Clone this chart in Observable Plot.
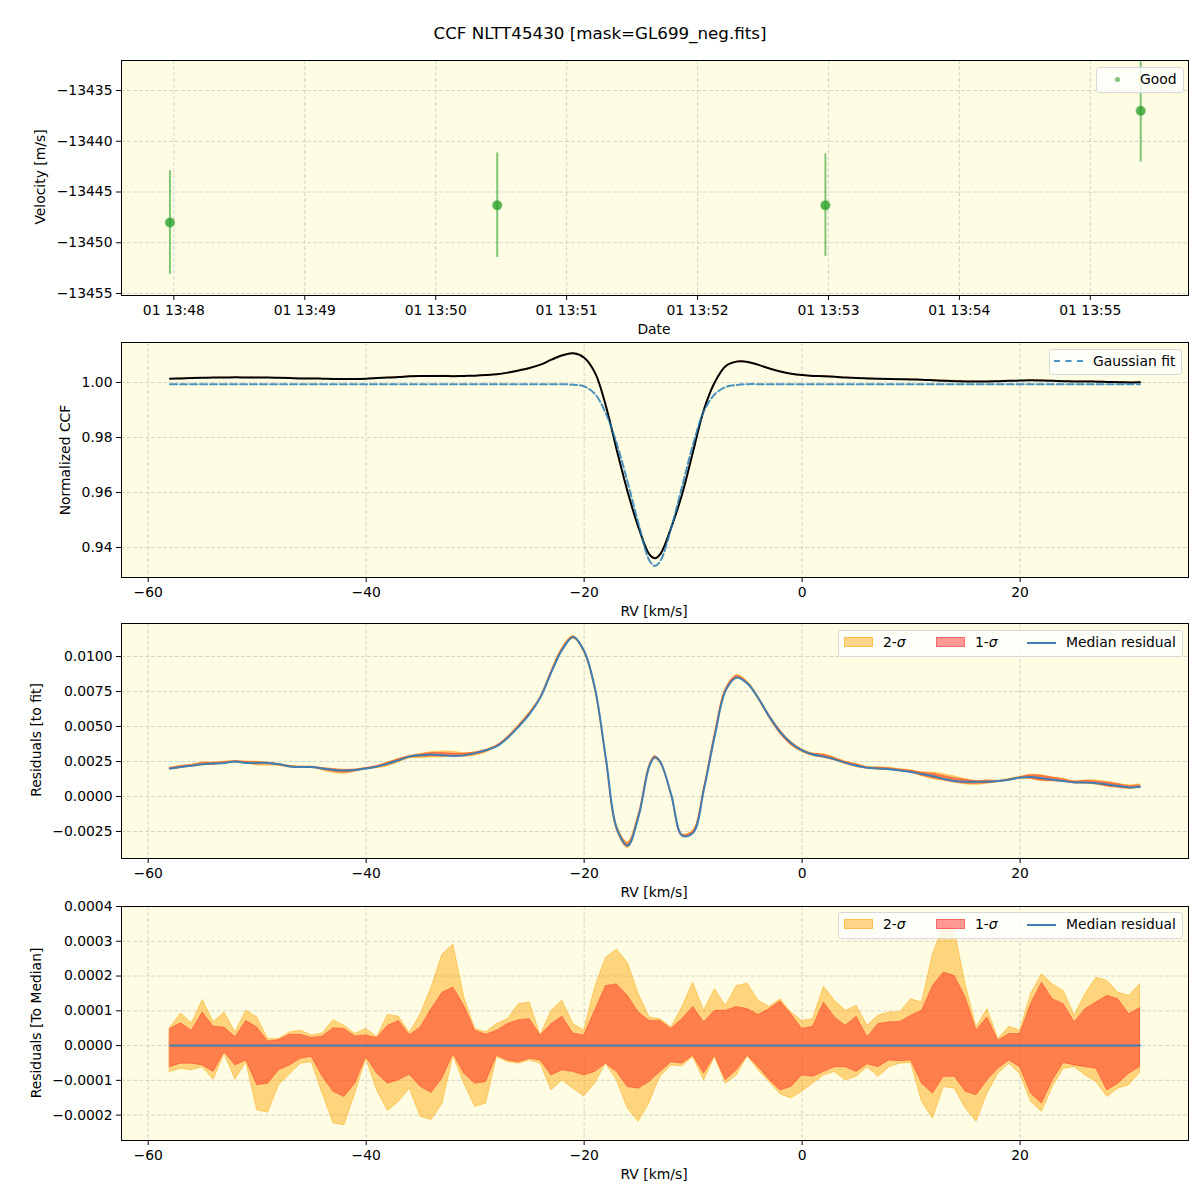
<!DOCTYPE html>
<html><head><meta charset="utf-8">
<script src="https://cdn.jsdelivr.net/npm/d3@7"></script>
<script src="https://cdn.jsdelivr.net/npm/@observablehq/plot@0.6"></script>
<style>
body{margin:0;background:#fff;font-family:"DejaVu Sans",sans-serif;}
#root{position:relative;width:1200px;height:1200px;overflow:hidden;}
.abs{position:absolute;white-space:nowrap;color:#000;line-height:1;}
.c{transform:translate(-50%,-50%);}
.rot{transform:translate(-50%,-50%) rotate(-90deg);}
.svgwrap{position:absolute;left:0;}
</style></head><body><div id="root"></div><script>
// ---------------- data ----------------
const obsTimes = ["2023-06-01T13:47:58.2Z","2023-06-01T13:50:28.2Z","2023-06-01T13:52:58.6Z","2023-06-01T13:55:23.1Z"];
const obsVelocity = [-13448.0, -13446.3, -13446.3, -13437.0];
const obsError = [5.1, 5.15, 5.05, 5.05];

const rv = [-58,-57,-56,-55,-54,-53,-52,-51,-50,-49,-48,-47,-46,-45,-44,-43,-42,-41,-40,-39,-38,-37,-36,-35,-34,-33,-32,-31,-30,-29,-28,-27,-26,-25,-24,-23,-22,
 -21,-20,-19,-18,-17,-16,-15,-14,-13.5,-13,-12,-11,-10,-9,-8,-7,-6,
 -5,-4,-3,-2,-1,0,1,2,3,4,5,6,7,8,9,10,11,12,13,14,15,16,17,18,19,20,21,22,23,24,25,26,27,28,29,30,31];

const ccf = [1.0014,1.0015,1.0016,1.0017,1.0018,1.0018,1.0019,1.0018,1.0018,1.0018,1.0017,1.0016,1.0015,1.0015,1.0014,1.0013,1.0013,1.0013,1.0014,1.0016,1.0018,1.0020,1.0023,1.0024,1.0024,1.0024,1.0023,1.0024,1.0025,1.0027,1.0030,1.0036,1.0044,1.0053,1.0065,1.0083,1.0099,
 1.0106,1.0090,1.0035,0.9914,0.9753,0.9601,0.9471,0.9374,0.9361,0.9377,0.9474,0.9596,0.9750,0.9903,1.0002,1.0060,1.0076,
 1.0075,1.0064,1.0051,1.0040,1.0032,1.0027,1.0024,1.0023,1.0021,1.0018,1.0016,1.0015,1.0014,1.0013,1.0012,1.0011,1.0010,1.0008,1.0006,1.0005,1.0004,1.0004,1.0004,1.0005,1.0006,1.0007,1.0008,1.0007,1.0006,1.0005,1.0004,1.0004,1.0003,1.0002,1.0001,1.0000,1.0001];

const gaussFit = [0.9994,0.9994,0.9994,0.9994,0.9994,0.9994,0.9994,0.9994,0.9994,0.9994,0.9994,0.9994,0.9994,0.9994,0.9994,0.9994,0.9994,0.9994,0.9994,0.9994,0.9994,0.9994,0.9994,0.9994,0.9994,0.9994,0.9994,0.9994,0.9994,0.9994,0.9994,0.9994,0.9994,0.9994,0.9994,0.9994,0.9994,
 0.9992,0.9986,0.9958,0.9887,0.9776,0.9636,0.9485,0.9352,0.9333,0.9352,0.9473,0.9624,0.9776,0.9897,0.9958,0.9984,0.9991,
 0.9994,0.9994,0.9994,0.9994,0.9994,0.9994,0.9994,0.9994,0.9994,0.9994,0.9994,0.9994,0.9994,0.9994,0.9994,0.9994,0.9994,0.9994,0.9994,0.9994,0.9994,0.9994,0.9994,0.9994,0.9994,0.9994,0.9994,0.9994,0.9994,0.9994,0.9994,0.9994,0.9994,0.9994,0.9994,0.9994,0.9994];

// median residual to fit, in units of 1e-3
const medianResidualE3 = [2.0,2.1,2.2,2.3,2.35,2.4,2.5,2.4,2.4,2.4,2.3,2.15,2.1,2.1,2.0,1.9,1.85,1.9,2.0,2.15,2.35,2.6,2.85,2.95,3.0,2.95,2.9,2.95,3.1,3.3,3.6,4.2,5.0,5.9,7.1,8.9,10.5,
 11.4,10.4,7.7,2.7,-2.3,-3.5,-1.4,2.2,2.8,2.45,0.1,-2.8,-2.6,0.55,4.4,7.6,8.5,
 8.05,7.0,5.7,4.6,3.8,3.3,3.0,2.85,2.65,2.4,2.2,2.05,2.0,1.95,1.85,1.75,1.6,1.45,1.25,1.1,1.05,1.05,1.05,1.1,1.2,1.35,1.4,1.3,1.2,1.1,1.0,1.0,0.95,0.85,0.75,0.65,0.7];

// residual band limits relative to the median, in units of 1e-4
const sigma2UpperE4 = [0.50,0.92,0.64,1.31,0.67,0.95,0.38,1.00,0.81,0.19,0.19,0.38,0.43,0.29,0.35,0.73,0.57,0.33,0.48,0.24,0.88,0.83,0.36,0.90,1.67,2.62,2.90,1.38,0.48,0.38,0.62,0.76,1.19,1.24,0.29,1.00,1.29,
 0.62,0.43,1.67,2.52,2.76,2.38,1.48,0.81,0.78,0.76,0.52,1.10,1.81,1.00,1.62,1.14,1.71,
 1.78,1.29,1.11,1.33,0.95,0.71,0.76,1.69,1.29,1.00,1.14,0.57,0.86,0.95,0.96,1.33,1.24,2.62,3.45,3.30,1.76,0.52,1.05,0.19,0.54,0.43,1.48,2.05,1.76,1.57,0.86,1.48,1.95,1.86,1.52,1.43,1.76];
const sigma1UpperE4 = [0.48,0.64,0.43,0.95,0.54,0.52,0.24,0.71,0.52,0.12,0.16,0.31,0.31,0.22,0.26,0.50,0.48,0.26,0.29,0.22,0.57,0.71,0.30,0.52,1.05,1.52,1.67,1.14,0.43,0.31,0.43,0.62,0.73,0.76,0.29,0.62,0.83,
 0.35,0.29,1.00,1.71,1.76,1.43,0.95,0.71,0.71,0.71,0.48,0.76,1.11,0.67,1.00,1.00,1.11,
 1.05,0.88,1.05,1.27,0.90,0.48,0.54,1.24,0.81,0.57,0.83,0.24,0.62,0.67,0.68,0.86,1.00,1.71,2.10,2.00,1.38,0.43,0.81,0.14,0.33,0.33,1.19,1.81,1.33,1.19,0.67,1.05,1.24,1.43,1.33,0.90,1.08];
const sigma1LowerE4 = [-0.62,-0.52,-0.52,-0.57,-0.76,-0.19,-0.57,-0.43,-1.14,-1.10,-0.71,-0.57,-0.38,-0.33,-0.90,-1.33,-1.48,-1.10,-0.33,-0.81,-1.10,-1.00,-0.84,-1.19,-1.36,-0.95,-0.24,-0.81,-1.10,-1.05,-0.29,-0.43,-0.48,-0.38,-0.43,-0.86,-0.71,
 -0.76,-0.86,-0.76,-0.52,-0.76,-1.19,-1.24,-1.05,-0.90,-0.76,-0.48,-0.52,-0.29,-0.81,-0.29,-1.00,-0.71,
 -0.29,-0.62,-0.98,-1.29,-1.19,-0.86,-0.90,-0.76,-0.62,-0.62,-0.76,-0.54,-0.62,-0.43,-0.45,-0.43,-1.10,-1.38,-0.90,-0.90,-1.33,-1.43,-1.00,-0.67,-0.43,-0.62,-1.38,-1.67,-1.00,-0.50,-0.57,-0.62,-0.67,-1.29,-1.10,-0.81,-0.62];
const sigma2LowerE4 = [-0.76,-0.67,-0.71,-0.62,-0.98,-0.24,-0.98,-0.48,-1.86,-1.93,-1.14,-0.83,-0.52,-0.48,-1.38,-2.24,-2.29,-1.38,-0.38,-1.29,-1.88,-1.62,-1.24,-2.05,-2.14,-1.67,-0.29,-1.10,-1.76,-1.67,-0.33,-0.48,-0.52,-0.43,-0.52,-1.29,-1.00,
 -1.24,-1.46,-1.10,-0.52,-1.00,-1.81,-2.19,-1.65,-1.25,-0.90,-0.57,-0.60,-0.33,-1.00,-0.33,-1.10,-0.86,
 -0.31,-0.71,-1.05,-1.40,-1.52,-1.33,-1.10,-0.86,-0.76,-1.00,-0.90,-0.62,-0.90,-0.62,-0.52,-0.50,-1.62,-2.10,-1.19,-1.24,-1.81,-2.19,-1.38,-0.81,-0.52,-0.81,-1.62,-1.90,-1.19,-0.67,-0.62,-0.86,-1.05,-1.48,-1.24,-1.14,-0.79];

// ticks
const timeTicks = ["2023-06-01T13:48Z","2023-06-01T13:49Z","2023-06-01T13:50Z","2023-06-01T13:51Z","2023-06-01T13:52Z","2023-06-01T13:53Z","2023-06-01T13:54Z","2023-06-01T13:55Z"];
const velTicks = [-13455,-13450,-13445,-13440,-13435];
const rvTicks = [-60,-40,-20,0,20];
const ccfTicks = [0.94,0.96,0.98,1.00];
const resTicks = [-0.0025,0,0.0025,0.005,0.0075,0.01];
const medTicks = [-0.0002,-0.0001,0,0.0001,0.0002,0.0003,0.0004];

// ---------------- build ----------------
const BG = "#fefce3";
const GRID = "#b8b8b8";
const ORANGE = "#ffa500", RED = "#ff0000";
const root = document.getElementById("root");

const obs = obsTimes.map((t,i)=>({t:new Date(t), v:obsVelocity[i], e:obsError[i]}));
const rows = rv.map((r,i)=>{
  const res = medianResidualE3[i]*1e-3;
  const u2 = sigma2UpperE4[i]*1e-4, u1 = sigma1UpperE4[i]*1e-4, l1 = sigma1LowerE4[i]*1e-4, l2 = sigma2LowerE4[i]*1e-4;
  return {rv:r, ccf:ccf[i], fit:gaussFit[i], res, u2, u1, l1, l2};
});

const rvDomain = [-62.45, 35.45];
const common = {width:1200, marginTop:10, marginBottom:40, marginLeft:121, marginRight:12,
  style:{fontFamily:"DejaVu Sans", fontSize:"13.9px", background:"transparent", color:"#000", overflow:"visible"}};
const grid = {stroke:GRID, strokeOpacity:0.7, strokeDasharray:"4,2", strokeWidth:0.8};
const axY = (ticks, fmt) => Plot.axisY({ticks, tickFormat:fmt, tickSize:5, tickPadding:4, label:null, fontSize:"13.9px"});
const axX = (ticks, fmt) => Plot.axisX({ticks, tickFormat:fmt, tickSize:5, tickPadding:5, label:null, fontSize:"13.9px"});
const fmtInt = d3.format("d");

function place(svg, top){ const w=document.createElement("div"); w.className="svgwrap"; w.style.top=top+"px"; w.appendChild(svg); root.appendChild(w); }
function text(t, x, y, cls="c", size=13.9){ const d=document.createElement("div"); d.className="abs "+cls; d.style.left=x+"px"; d.style.top=y+"px"; d.style.fontSize=size+"px"; d.innerHTML=t; root.appendChild(d); return d; }
function box(x,y,w,h,css){ const d=document.createElement("div"); d.style.position="absolute"; d.style.left=x+"px"; d.style.top=y+"px"; d.style.width=w+"px"; d.style.height=h+"px"; Object.assign(d.style,css||{}); root.appendChild(d); return d; }

// Panel 1: velocities
place(Plot.plot({...common, height:285,
  x:{type:"utc", domain:[new Date("2023-06-01T13:47:36Z"), new Date("2023-06-01T13:55:45Z")]},
  y:{domain:[-13455.2, -13432.04]},
  marks:[
    Plot.frame({fill:BG}),
    Plot.gridX({ticks: timeTicks.map(t=>new Date(t)), ...grid}),
    Plot.gridY({ticks: velTicks, ...grid}),
    Plot.ruleX(obs, {x:"t", y1:d=>d.v-d.e, y2:d=>d.v+d.e, stroke:"#2ca02c", strokeOpacity:0.6, strokeWidth:2, clip:true}),
    Plot.dot(obs, {x:"t", y:"v", r:4.5, fill:"#2ca02c", fillOpacity:0.8, stroke:"#2ca02c", strokeOpacity:0.4, strokeWidth:1.5, clip:true}),
    axX(timeTicks.map(t=>new Date(t)), d3.utcFormat("%d %H:%M")),
    axY(velTicks, fmtInt),
    Plot.frame({stroke:"#000"})
  ]}), 50);

// Panel 2: CCF
place(Plot.plot({...common, height:285,
  x:{domain:rvDomain}, y:{domain:[0.9291, 1.01455]},
  marks:[
    Plot.frame({fill:BG}),
    Plot.gridX({ticks: rvTicks, ...grid}),
    Plot.gridY({ticks: ccfTicks, ...grid}),
    Plot.areaY(rows, {x:"rv", y1:d=>d.ccf+d.l2, y2:d=>d.ccf+d.u2, fill:ORANGE, fillOpacity:0.45, curve:"catmull-rom"}),
    Plot.areaY(rows, {x:"rv", y1:d=>d.ccf+d.l1, y2:d=>d.ccf+d.u1, fill:RED, fillOpacity:0.4, curve:"catmull-rom"}),
    Plot.line(rows, {x:"rv", y:"ccf", stroke:"#000", strokeWidth:2, curve:"catmull-rom"}),
    Plot.line(rows, {x:"rv", y:"fit", stroke:"#1f77b4", strokeOpacity:0.8, strokeWidth:2, strokeDasharray:"7,3", curve:"catmull-rom"}),
    axX(rvTicks, fmtInt),
    axY(ccfTicks, d3.format(".2f")),
    Plot.frame({stroke:"#000"})
  ]}), 332);

// Panel 3: residuals to fit
place(Plot.plot({...common, height:285,
  x:{domain:rvDomain}, y:{domain:[-0.00443, 0.01236]},
  marks:[
    Plot.frame({fill:BG}),
    Plot.gridX({ticks: rvTicks, ...grid}),
    Plot.gridY({ticks: resTicks, ...grid}),
    Plot.areaY(rows, {x:"rv", y1:d=>d.res+d.l2, y2:d=>d.res+d.u2, fill:ORANGE, fillOpacity:0.45, stroke:ORANGE, strokeOpacity:0.5, strokeWidth:1, curve:"catmull-rom"}),
    Plot.areaY(rows, {x:"rv", y1:d=>d.res+d.l1, y2:d=>d.res+d.u1, fill:RED, fillOpacity:0.4, stroke:RED, strokeOpacity:0.3, strokeWidth:1, curve:"catmull-rom"}),
    Plot.line(rows, {x:"rv", y:"res", stroke:"#3f7fb3", strokeWidth:2, curve:"catmull-rom"}),
    axX(rvTicks, fmtInt),
    axY(resTicks, d3.format(".4f")),
    Plot.frame({stroke:"#000"})
  ]}), 613);

// Panel 4: residuals to median
place(Plot.plot({...common, height:284,
  x:{domain:rvDomain}, y:{domain:[-0.000273, 0.0004]},
  marks:[
    Plot.frame({fill:BG}),
    Plot.gridX({ticks: rvTicks, ...grid}),
    Plot.gridY({ticks: medTicks, ...grid}),
    Plot.areaY(rows, {x:"rv", y1:"l2", y2:"u2", fill:ORANGE, fillOpacity:0.45, stroke:ORANGE, strokeOpacity:0.45, strokeWidth:1}),
    Plot.areaY(rows, {x:"rv", y1:"l1", y2:"u1", fill:RED, fillOpacity:0.4, stroke:RED, strokeOpacity:0.3, strokeWidth:1}),
    Plot.line(rows, {x:"rv", y:d=>d.res-d.res, stroke:"#3f7fb3", strokeWidth:2}),
    axX(rvTicks, fmtInt),
    axY(medTicks, d3.format(".4f")),
    Plot.frame({stroke:"#000"})
  ]}), 896);

// ---------------- texts ----------------
text("CCF NLTT45430 [mask=GL699_neg.fits]", 600, 33, "c", 16.7);
text("Date", 654, 330);
text("RV [km/s]", 654, 612);
text("RV [km/s]", 654, 893);
text("RV [km/s]", 654, 1175);
text("Velocity [m/s]", 41, 177, "rot");
text("Normalized CCF", 66, 460, "rot");
text("Residuals [to fit]", 37, 740, "rot");
text("Residuals [To Median]", 37, 1023, "rot");

// legends
box(1096,67,88,26,{background:"rgba(255,255,255,0.8)",border:"1px solid #d8d8d8",borderRadius:"3px",boxSizing:"border-box"});
box(1114.5,76.5,5,5,{background:"rgba(44,160,44,0.6)",borderRadius:"50%"});
text("Good", 1140, 80, "", 13.9).style.transform="translateY(-50%)";

box(1049,349,133,26,{background:"rgba(255,255,255,0.8)",border:"1px solid #d8d8d8",borderRadius:"3px",boxSizing:"border-box"});
box(1054,360,29,0,{borderTop:"2px dashed rgba(31,119,180,0.8)"});
text("Gaussian fit", 1093, 362, "", 13.9).style.transform="translateY(-50%)";

for (const top of [630, 912]) {
  box(838,top,345,27,{background:"rgba(255,255,255,0.8)",border:"1px solid #d8d8d8",borderRadius:"3px",boxSizing:"border-box"});
  box(844,top+7,29,10,{background:"rgba(255,165,0,0.45)",border:"1px solid rgba(255,165,0,0.45)",boxSizing:"border-box"});
  text("2-<i>σ</i>", 883, top+13, "", 13.9).style.transform="translateY(-50%)";
  box(936,top+7,29,10,{background:"rgba(255,0,0,0.4)",border:"1px solid rgba(255,0,0,0.3)",boxSizing:"border-box"});
  text("1-<i>σ</i>", 975, top+13, "", 13.9).style.transform="translateY(-50%)";
  box(1027,top+12,29,2,{background:"#3f7fb3"});
  text("Median residual", 1066, top+13, "", 13.9).style.transform="translateY(-50%)";
}
</script></body></html>
